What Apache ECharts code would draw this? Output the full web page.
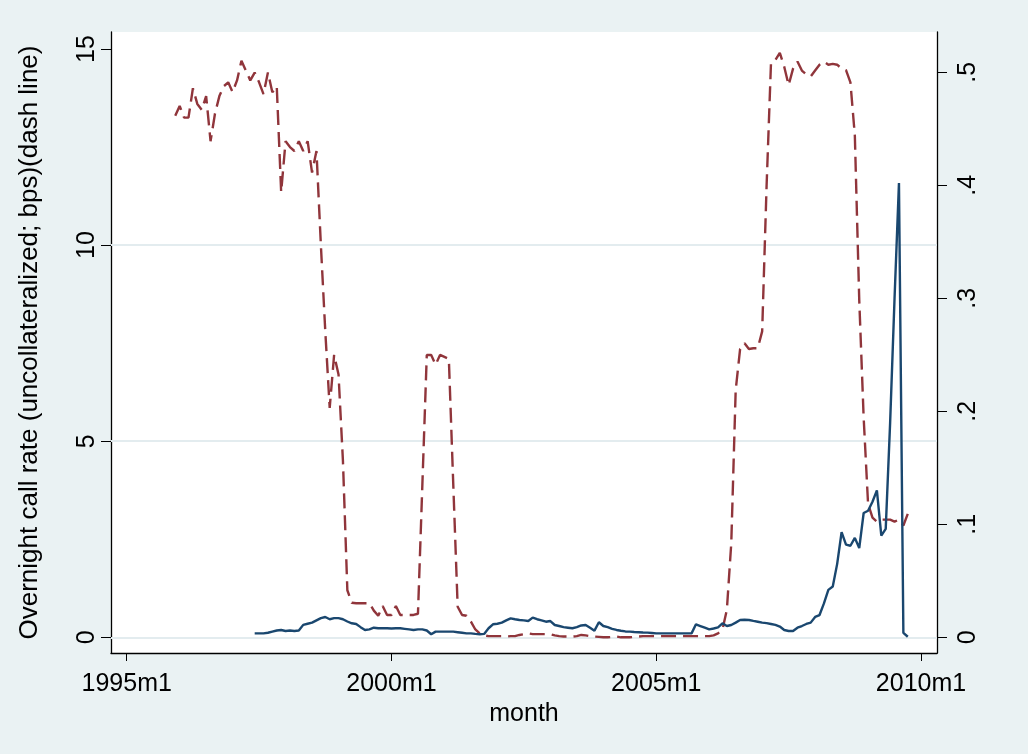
<!DOCTYPE html>
<html>
<head>
<meta charset="utf-8">
<script src="https://cdn.jsdelivr.net/npm/echarts@6/dist/echarts.min.js"></script>
<style>
html,body{margin:0;padding:0;background:#EAF2F3;}
#chart{width:1028px;height:754px;}
</style>
</head>
<body>
<div id="chart"></div>
<script>
// Stata monthly dates: month index = (year-1960)*12 + (month-1)
const xTickMonths = ['1995m1', '2000m1', '2005m1', '2010m1'];
const leftTicks = [0, 5, 10, 15];
const leftGrid = [0, 5, 10];
const rightTicks = [0, 0.1, 0.2, 0.3, 0.4, 0.5];

// Dashed line (left axis), monthly from 1995m12
const dashStart = '1995m12';
const dashValues = [
  13.3,
  13.55, 13.25, 13.25, 14.0, 13.6, 13.45, 13.8, 12.65, 13.35, 13.8, 14.05, 14.15,
  13.9, 14.2, 14.7, 14.45, 14.2, 14.4, 14.15, 13.85, 14.4, 13.9, 14.05, 11.35,
  12.65, 12.5, 12.4, 12.65, 12.4, 12.65, 11.85, 12.4, 10.0, 7.8, 5.85, 7.2,
  6.7, 4.5, 1.2, 0.88, 0.87, 0.87, 0.87, 0.87, 0.68, 0.55, 0.8, 0.57,
  0.57, 0.8, 0.57, 0.57, 0.57, 0.57, 0.6, 3.9, 7.2, 7.2, 6.95, 7.2,
  7.15, 7.1, 3.9, 0.78, 0.57, 0.55, 0.4, 0.2, 0.1, 0.05, 0.03, 0.03,
  0.03, 0.03, 0.02, 0.03, 0.03, 0.06, 0.08, 0.1, 0.08, 0.08, 0.08, 0.08,
  0.08, 0.05, 0.03, 0.02, 0.02, 0.02, 0.03, 0.06, 0.05, 0.03, 0.02, 0.01,
  0.0, 0.0, 0.01, 0.02, 0.0, 0.0, 0.0, 0.01, 0.02, 0.03, 0.03, 0.03,
  0.03, 0.03, 0.03, 0.03, 0.03, 0.03, 0.03, 0.03, 0.03, 0.03, 0.03, 0.03,
  0.03, 0.05, 0.1, 0.2, 0.7, 2.4, 6.3, 7.35, 7.5, 7.35, 7.37, 7.37,
  7.8, 11.5, 14.64, 14.72, 14.9, 14.55, 14.08, 14.5, 14.68, 14.45, 14.35, 14.3,
  14.45, 14.6, 14.68, 14.6, 14.62, 14.6, 14.5, 14.46, 14.15, 12.8, 8.6, 5.6,
  3.4, 3.05, 2.95, 3.0, 3.0, 3.0, 2.95, 3.0, 2.85, 3.15
];

// Solid line (right axis), monthly from 1997m6
const solidStart = '1997m6';
const solidValues = [
  0.0035, 0.0035, 0.0035, 0.004, 0.005, 0.006, 0.0065,
  0.0056, 0.006, 0.0056, 0.006, 0.011, 0.012, 0.013, 0.015, 0.017, 0.018, 0.016, 0.017,
  0.017, 0.016, 0.014, 0.0124, 0.0118, 0.009, 0.0065, 0.007, 0.0085, 0.008, 0.008, 0.008,
  0.0078, 0.008, 0.008, 0.0075, 0.007, 0.0065, 0.007, 0.007, 0.006, 0.0027, 0.005, 0.005,
  0.005, 0.005, 0.005, 0.0045, 0.004, 0.0035, 0.0035, 0.003, 0.0027, 0.003, 0.008, 0.0115,
  0.012, 0.013, 0.015, 0.0168, 0.016, 0.0153, 0.015, 0.0144, 0.0174, 0.016, 0.015, 0.0138,
  0.0144, 0.0109, 0.01, 0.009, 0.0085, 0.008, 0.009, 0.0105, 0.0109, 0.0085, 0.0059, 0.0133,
  0.01, 0.009, 0.0075, 0.0065, 0.0058, 0.0052, 0.005, 0.0047, 0.0045, 0.0042, 0.0041, 0.0038,
  0.0035, 0.0035, 0.0035, 0.0035, 0.0035, 0.0035, 0.0035, 0.0035, 0.0035, 0.0115, 0.01, 0.0085,
  0.007, 0.0078, 0.0088, 0.0124, 0.01, 0.0109, 0.013, 0.0153, 0.0155, 0.0153, 0.0145, 0.0138,
  0.013, 0.0125, 0.0118, 0.011, 0.0095, 0.0065, 0.0056, 0.0056, 0.0085, 0.01, 0.0118, 0.013,
  0.018, 0.0197, 0.03, 0.042, 0.045, 0.065, 0.093, 0.082, 0.081, 0.088, 0.079, 0.11,
  0.112, 0.12, 0.13, 0.09, 0.096, 0.19, 0.30, 0.402, 0.004, 0.0005
];

function parseMonth(s) {
  const p = s.split('m');
  return (parseInt(p[0], 10) - 1960) * 12 + parseInt(p[1], 10) - 1;
}
function fmtMonth(v) {
  const y = 1960 + Math.floor(v / 12);
  const m = v - (y - 1960) * 12 + 1;
  return y + 'm' + m;
}
function toPairs(start, vals) {
  const s = parseMonth(start);
  return vals.map((v, i) => [s + i, v]);
}

const FONT = "'Liberation Sans', Arial, sans-serif";
const FS = 25;

const chart = echarts.init(document.getElementById('chart'), null, {renderer: 'canvas'});
chart.setOption({
  animation: false,
  backgroundColor: '#EAF2F3',
  textStyle: {fontFamily: FONT},
  grid: {
    left: 111, right: 91, top: 32, bottom: 101,
    show: true, backgroundColor: '#ffffff', borderWidth: 0
  },
  xAxis: {
    type: 'value',
    min: 416.44, max: 603.62,
    name: 'month', nameLocation: 'middle', nameGap: 46,
    nameTextStyle: {fontSize: FS, color: '#000', fontFamily: FONT},
    axisLine: {show: true, onZero: false, lineStyle: {color: '#000', width: 1.3}},
    axisTick: {show: true, length: 8, lineStyle: {color: '#000', width: 1}, customValues: xTickMonths.map(parseMonth)},
    axisLabel: {show: true, margin: 19, fontSize: FS, color: '#000', fontFamily: FONT,
      customValues: xTickMonths.map(parseMonth), formatter: v => fmtMonth(v)},
    splitLine: {show: false}
  },
  yAxis: [
    {
      type: 'value', position: 'left',
      min: -0.40, max: 15.434,
      name: 'Overnight call rate (uncollateralized; bps)(dash line)',
      nameLocation: 'middle', nameRotate: 90, nameGap: 68,
      nameTextStyle: {fontSize: 26, color: '#000', fontFamily: FONT},
      axisLine: {show: true, onZero: false, lineStyle: {color: '#000', width: 1.3}},
      axisTick: {show: true, length: 10, lineStyle: {color: '#000', width: 1}, customValues: leftTicks},
      axisLabel: {show: true, rotate: 90, margin: 11, fontSize: FS, color: '#000', fontFamily: FONT,
        customValues: leftTicks, formatter: v => String(v)},
      splitLine: {show: false}
    },
    {
      type: 'value', position: 'right',
      min: -0.01389, max: 0.5357,
      axisLine: {show: true, onZero: false, lineStyle: {color: '#000', width: 1.3}},
      axisTick: {show: true, length: 10, lineStyle: {color: '#000', width: 1}, customValues: rightTicks},
      axisLabel: {show: true, rotate: 90, margin: 19, fontSize: FS, color: '#000', fontFamily: FONT,
        customValues: rightTicks, formatter: v => v === 0 ? '0' : String(v).replace(/^0/, '')},
      splitLine: {show: false}
    }
  ],
  series: [
    {
      type: 'line', name: 'dash', yAxisIndex: 0,
      data: toPairs(dashStart, dashValues),
      showSymbol: false, symbol: 'none', z: 3,
      lineStyle: {color: '#90353B', width: 2.4, type: [15, 7]},
      markLine: {
        silent: true, symbol: 'none', z: 1, animation: false,
        label: {show: false},
        lineStyle: {color: '#E3ECEF', width: 2, type: 'solid'},
        data: leftGrid.map(v => ({yAxis: v}))
      }
    },
    {
      type: 'line', name: 'solid', yAxisIndex: 1,
      data: toPairs(solidStart, solidValues),
      showSymbol: false, symbol: 'none', z: 4,
      lineStyle: {color: '#1A476F', width: 2.4, type: 'solid'}
    }
  ]
});
</script>
</body>
</html>
